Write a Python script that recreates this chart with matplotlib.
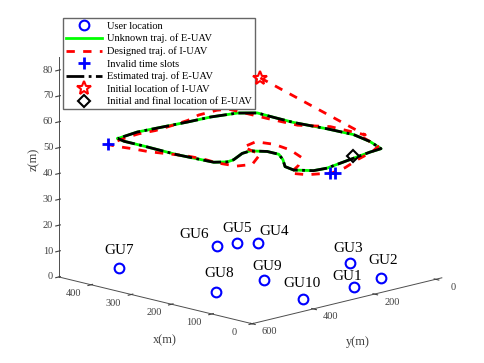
import matplotlib
matplotlib.use("Agg")
import matplotlib.pyplot as plt
from matplotlib.transforms import offset_copy
from mpl_toolkits.mplot3d import proj3d

plt.rcParams['font.family'] = ['Liberation Serif', 'DejaVu Serif']

# ground users (z = 0)
gu_names = ['GU1', 'GU2', 'GU3', 'GU4', 'GU5', 'GU6', 'GU7', 'GU8', 'GU9', 'GU10']
gu_x = [64, 75, 191, 406, 435, 444, 453, 207, 211, 66]
gu_y = [184, 80, 30, 48, 77, 132, 439, 444, 284, 347]
gu_z = [0, 0, 0, 0, 0, 0, 0, 0, 0, 0]
# label offsets from the marker (pixels)
lab_dx = [-6, 2, -1, 17, 0, -22, 0, 3, 3, -1]
lab_dy = [10, 17, 14, 12, 14, 11, 17, 18, 13, 15]

# unknown / estimated trajectory of E-UAV (flies at 50 m)
e_x = [454, 432, 383, 297, 213, 198, 201, 223, 226, 202, 173, 141, 102, 74, 46, 42, 60, 71, 75,
       125, 181, 244, 317, 368, 412, 436, 449, 452, 463, 454]
e_y = [441, 450, 450, 454, 445, 421, 396, 339, 309, 285, 285, 314, 358, 367, 339, 300, 189, 121, 80,
       50, 30, 34, 46, 44, 41, 74, 144, 216, 366, 441]
e_z = [50] * len(e_x)

# designed trajectory of I-UAV
i_x = [190, 165, 251, 299, 371, 467, 476, 474, 460, 453, 448, 452, 449, 436, 413, 385, 348, 281, 245,
       205, 165, 154, 196, 254, 266, 230, 181, 129, 90, 62, 33, 20, 11, 22, 49, 70, 90, 158]
i_y = [323, 13, 14, 58, 62, 62, 89, 151, 205, 267, 326, 375, 415, 498, 496, 487, 480, 447, 440,
       444, 434, 397, 316, 294, 238, 225, 237, 269, 331, 394, 377, 345, 325, 267, 189, 115, 70, 32]
i_z = [80] + [50] * 37

# invalid time slots
inv_x = [436, 11, 5]
inv_y = [498, 330, 322]
inv_z = [50, 50, 50]

# initial location of I-UAV, initial/final location of E-UAV
i0 = (190, 323, 80)
e0 = (70, 178, 50)

x_ticks = [0, 100, 200, 300, 400]
y_ticks = [0, 200, 400, 600]
z_ticks = [0, 10, 20, 30, 40, 50, 60, 70, 80]

fig = plt.figure(figsize=(4.85, 3.63), dpi=100)
ax = fig.add_axes([0.006, 0.025, 1, 1], projection='3d')
ax.computed_zorder = False

ax.set_xlim(0, 480)
ax.set_ylim(-20, 600)
ax.set_zlim(0, 85)
ax.set_xticks(x_ticks)
ax.set_yticks(y_ticks)
ax.set_zticks(z_ticks)
ax.set_xticklabels([])
ax.set_yticklabels([])
ax.set_zticklabels([])
ax.set_box_aspect((274, 269, 227), zoom=1.19)
ax.view_init(elev=14, azim=135)
ax.set_proj_type('ortho')

ax.plot(gu_x, gu_y, gu_z, 'o', color='blue', mfc='none', ms=7, mew=1.5, ls='none',
        label='User location', zorder=6)
ax.plot(e_x, e_y, e_z, color=(0, 1, 0), lw=2, label='Unknown traj. of E-UAV', zorder=2)
ax.plot(i_x, i_y, i_z, color='red', lw=2, dashes=(3, 3), label='Designed traj. of I-UAV', zorder=3)
ax.plot(inv_x, inv_y, inv_z, '+', color='blue', ms=8, mew=2, ls='none',
        label='Invalid time slots', zorder=5)
ax.plot(e_x, e_y, e_z, color='black', lw=2, ls='-.', label='Estimated traj. of E-UAV', zorder=4)
ax.plot([i0[0]], [i0[1]], [i0[2]], '*', color='red', mfc='none', ms=10, mew=1.5, ls='none',
        label='Initial location of I-UAV', zorder=6)
ax.plot([e0[0]], [e0[1]], [e0[2]], 'D', color='black', mfc='none', ms=6, mew=1.5, ls='none',
        label='Initial and final location of E-UAV', zorder=6)

# texts placed in 3D and projected onto the 2D plane of the axes
M = ax.get_proj()
for i in range(len(gu_names)):
    px, py, _ = proj3d.proj_transform(gu_x[i], gu_y[i], gu_z[i], M)
    tr = offset_copy(ax.transData, fig=fig, x=lab_dx[i], y=lab_dy[i], units='dots')
    ax.text2D(px, py, gu_names[i], transform=tr, ha='center', va='center',
              fontsize=11, zorder=7)

tick_style = dict(transform=ax.transData, va='center', fontsize=7.5, color='0.25')
for v in x_ticks:
    px, py, _ = proj3d.proj_transform(v, 658, -1.7, M)
    ax.text2D(px, py, str(v), ha='center', **tick_style)
for v in y_ticks:
    px, py, _ = proj3d.proj_transform(-43, v, -1.5, M)
    ax.text2D(px, py, str(v), ha='center', **tick_style)
for v in z_ticks:
    px, py, _ = proj3d.proj_transform(487, 609, v, M)
    ax.text2D(px, py, str(v), ha='right', **tick_style)

ax.grid(False)
for axis in (ax.xaxis, ax.yaxis, ax.zaxis):
    axis.set_pane_color((1, 1, 1, 0))
    axis.line.set_color('0.3')
    axis.line.set_linewidth(0.7)
ax.zaxis.set_ticks_position('upper')
ax.tick_params(colors='0.25')

fig.text(0.34, 0.063, 'x(m)', fontsize=9, color='0.25', ha='center', va='center')
fig.text(0.738, 0.058, 'y(m)', fontsize=9, color='0.25', ha='center', va='center')
fig.text(0.07, 0.56, 'z(m)', fontsize=9, color='0.25', ha='center', va='center', rotation=90)

ax.legend(loc='upper left', bbox_to_anchor=(0.13, 0.95), bbox_transform=fig.transFigure,
          fontsize=7.5, fancybox=False, edgecolor='0.4', framealpha=1, handlelength=3.4,
          handletextpad=0.5, labelspacing=0.3, borderpad=0.3, borderaxespad=0)

fig.savefig('out.png', dpi=100)
